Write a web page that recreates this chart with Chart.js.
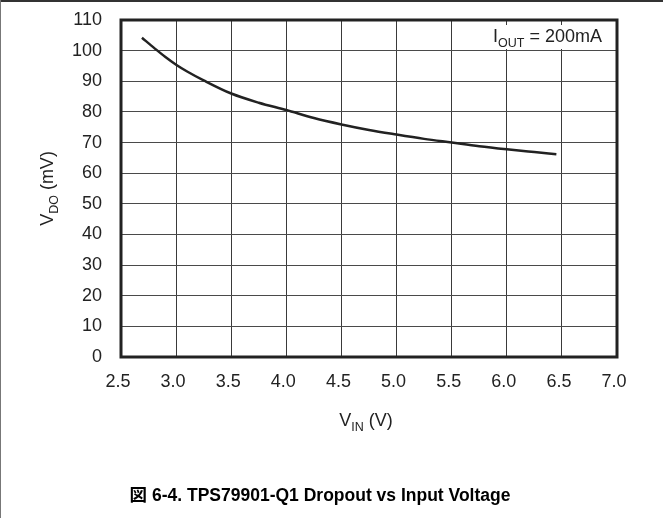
<!DOCTYPE html>
<html lang="en">
<head>
    <meta charset="UTF-8">
    <title>TPS79901-Q1 Dropout vs Input Voltage</title>
    <script src="https://cdn.jsdelivr.net/npm/chart.js"></script>
    <style>
        body { margin: 0; background: #fff; }
    </style>
</head>
<body>
    <canvas id="dropoutChart" width="663" height="518"></canvas>

    <script>
        // values (VIN in V, VDO in mV)
        const vin = [2.69, 2.8, 2.9, 3.0, 3.1, 3.25, 3.5, 3.75, 4.0, 4.25, 4.5, 4.75, 5.0, 5.25, 5.5, 5.75, 6.0, 6.25, 6.45];
        const vdo = [104.2, 100.9, 98.0, 95.4, 93.2, 90.3, 86, 83, 80.6, 78, 75.9, 74.1, 72.6, 71.2, 70, 68.8, 67.8, 66.9, 66.2];
        const xTicks = [2.5, 3.0, 3.5, 4.0, 4.5, 5.0, 5.5, 6.0, 6.5, 7.0];
        const yTicks = [0, 10, 20, 30, 40, 50, 60, 70, 80, 90, 100, 110];

        const FONT = '"Liberation Sans", Arial, sans-serif';

        // draw text made of normal / subscript parts
        function drawParts(ctx, parts, x, y, align) {
            const big = '18px ' + FONT, small = '12.5px ' + FONT;
            let w = 0;
            parts.forEach(p => { ctx.font = p[1] ? small : big; w += ctx.measureText(p[0]).width; });
            let cx = align === 'center' ? x - w / 2 : (align === 'right' ? x - w : x);
            ctx.textAlign = 'left';
            ctx.textBaseline = 'alphabetic';
            parts.forEach(p => {
                ctx.font = p[1] ? small : big;
                ctx.fillText(p[0], cx, p[1] ? y + 5 : y);
                cx += ctx.measureText(p[0]).width;
            });
        }

        const extras = {
            id: 'extras',
            beforeDraw(chart) {
                const ctx = chart.ctx;
                ctx.save();
                ctx.fillStyle = '#fff';
                ctx.fillRect(0, 0, chart.width, chart.height);
                // figure frame, top and left
                ctx.fillStyle = '#333';
                ctx.fillRect(0, 0, chart.width, 2);
                ctx.fillStyle = '#777';
                ctx.fillRect(0, 0, 1, chart.height);
                ctx.restore();
            },
            afterDraw(chart) {
                const ctx = chart.ctx;
                const a = chart.chartArea;
                ctx.save();
                // white box behind the condition label
                ctx.fillStyle = '#fff';
                ctx.fillRect(482, 25, 132, 24);

                ctx.strokeStyle = '#222';
                ctx.lineWidth = 3;
                ctx.strokeRect(a.left, a.top, a.right - a.left, a.bottom - a.top);

                ctx.fillStyle = '#222';
                drawParts(ctx, [['I', false], ['OUT', true], [' = 200mA', false]], 602, 42, 'right');
                drawParts(ctx, [['V', false], ['IN', true], [' (V)', false]], 366, 426, 'center');

                ctx.translate(53, (a.top + a.bottom) / 2);
                ctx.rotate(-Math.PI / 2);
                drawParts(ctx, [['V', false], ['DO', true], [' (mV)', false]], 0, 0, 'center');
                ctx.restore();

                ctx.save();
                ctx.fillStyle = '#000';
                ctx.font = 'bold 17.5px ' + FONT + ', "Noto Sans CJK JP"';
                ctx.textAlign = 'center';
                ctx.textBaseline = 'alphabetic';
                ctx.fillText('図 6-4. TPS79901-Q1 Dropout vs Input Voltage', 320, 501);
                ctx.restore();
            }
        };

        const ctx = document.getElementById('dropoutChart').getContext('2d');
        new Chart(ctx, {
            type: 'scatter',
            data: {
                datasets: [{
                    data: vin.map((v, i) => ({ x: v, y: vdo[i] })),
                    showLine: true,
                    borderColor: '#222',
                    borderWidth: 2.5,
                    pointRadius: 0,
                    cubicInterpolationMode: 'monotone',
                    fill: false
                }]
            },
            options: {
                responsive: false,
                animation: false,
                layout: { padding: { top: 20, right: 46, left: 0, bottom: 0 } },
                plugins: {
                    legend: { display: false },
                    tooltip: { enabled: false }
                },
                scales: {
                    x: {
                        type: 'linear',
                        min: xTicks[0],
                        max: xTicks[xTicks.length - 1],
                        afterBuildTicks: s => { s.ticks = xTicks.map(v => ({ value: v })); },
                        afterFit: s => { s.height = 161; },
                        grid: { color: '#3a3a3a', lineWidth: 1, drawTicks: false },
                        border: { display: false },
                        ticks: {
                            padding: 14,
                            labelOffset: -3,
                            color: '#222',
                            font: { family: FONT, size: 18 },
                            callback: v => v.toFixed(1)
                        }
                    },
                    y: {
                        min: yTicks[0],
                        max: yTicks[yTicks.length - 1],
                        afterBuildTicks: s => { s.ticks = yTicks.map(v => ({ value: v })); },
                        afterFit: s => { s.width = 121; s.paddingTop = 0; s.paddingBottom = 0; },
                        grid: { color: '#4a4a4a', lineWidth: 1, drawTicks: false },
                        border: { display: false },
                        ticks: {
                            padding: 19,
                            color: '#222',
                            font: { family: FONT, size: 18 }
                        }
                    }
                }
            },
            plugins: [extras]
        });
    </script>
</body>
</html>
